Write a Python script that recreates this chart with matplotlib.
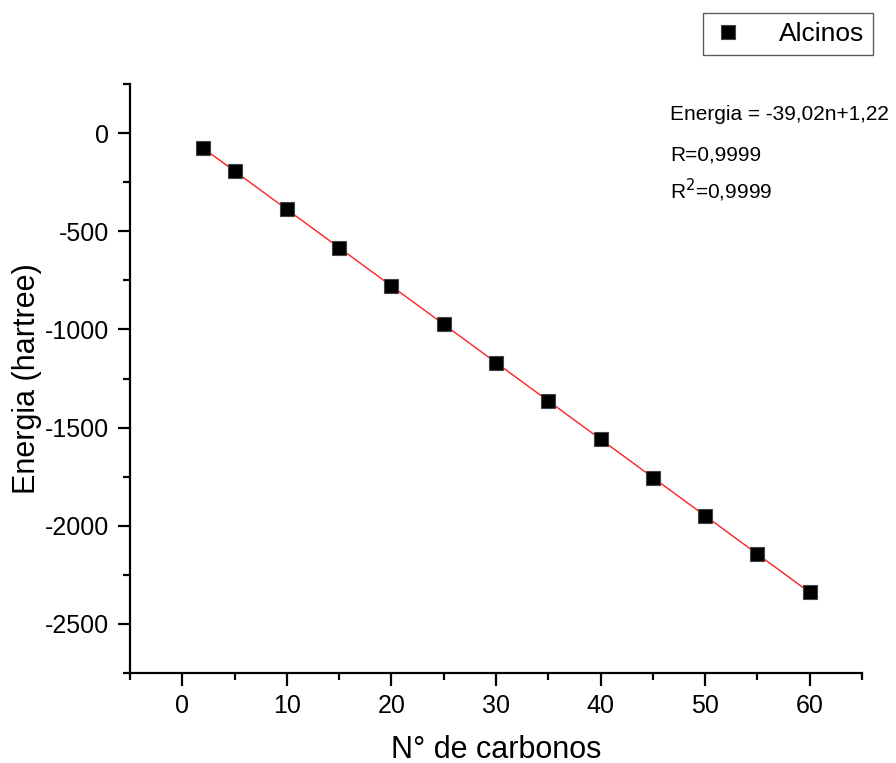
import matplotlib
matplotlib.use("Agg")
import matplotlib.pyplot as plt
import numpy as np

plt.rcParams["font.family"] = ["Liberation Sans", "DejaVu Sans"]
plt.rcParams["axes.unicode_minus"] = False

# number of carbons vs total energy (hartree) for the alkyne series
carbonos = [2, 5, 10, 15, 20, 25, 30, 35, 40, 45, 50, 55, 60]
energia = [-77.0, -193.5, -388.6, -583.7, -778.8, -973.9, -1169.0,
           -1364.1, -1559.2, -1754.3, -1949.4, -2144.5, -2339.6]

x_ticks = [0, 10, 20, 30, 40, 50, 60]
y_ticks = [0, -500, -1000, -1500, -2000, -2500]

fig = plt.figure(figsize=(8.96, 7.63), dpi=100, facecolor="white")
ax = fig.add_axes([130 / 896, 1 - 673 / 763, (862 - 130) / 896, (673 - 84) / 763])

# linear fit drawn over the data range
a, b = np.polyfit(carbonos, energia, 1)
xf = np.array([min(carbonos), max(carbonos)])
ax.plot(xf, a * xf + b, color="#ff2020", lw=1.0, zorder=2)
ax.plot(carbonos, energia, ls="none", marker="s", ms=10, mfc="black",
        mec="#444444", mew=0.8, zorder=3, label="Alcinos")

ax.set_xlim(-5, 65)
ax.set_ylim(-2750, 250)
ax.set_xticks(x_ticks)
ax.set_yticks(y_ticks)
ax.set_xticks(np.arange(-5, 66, 10), minor=True)
ax.set_yticks(np.arange(-2750, 251, 500), minor=True)

for s in ("top", "right"):
    ax.spines[s].set_visible(False)
for s in ("left", "bottom"):
    ax.spines[s].set_linewidth(1.6)
ax.tick_params(which="major", direction="out", length=9, width=1.6, labelsize=18, pad=6)
ax.tick_params(which="minor", direction="out", length=5, width=1.6)

ax.set_xlabel("N° de carbonos", fontsize=22, labelpad=12)
ax.set_ylabel("Energia (hartree)", fontsize=22, labelpad=2)

fig.legend(loc="upper right", bbox_to_anchor=(873 / 896, 1 - 13 / 763),
           fontsize=19, frameon=True, fancybox=False, edgecolor="#333333",
           handletextpad=1.3, borderpad=0.35, handlelength=1.2, borderaxespad=0)

for y, s in [(115, "Energia = -39,02n+1,22"), (155, "R=0,9999"), (190, "R$^{2}$=0,9999")]:
    ax.text(670 / 896, 1 - y / 763, s, transform=fig.transFigure, fontsize=15, va="center")

fig.savefig("out.png", dpi=100, facecolor="white")
